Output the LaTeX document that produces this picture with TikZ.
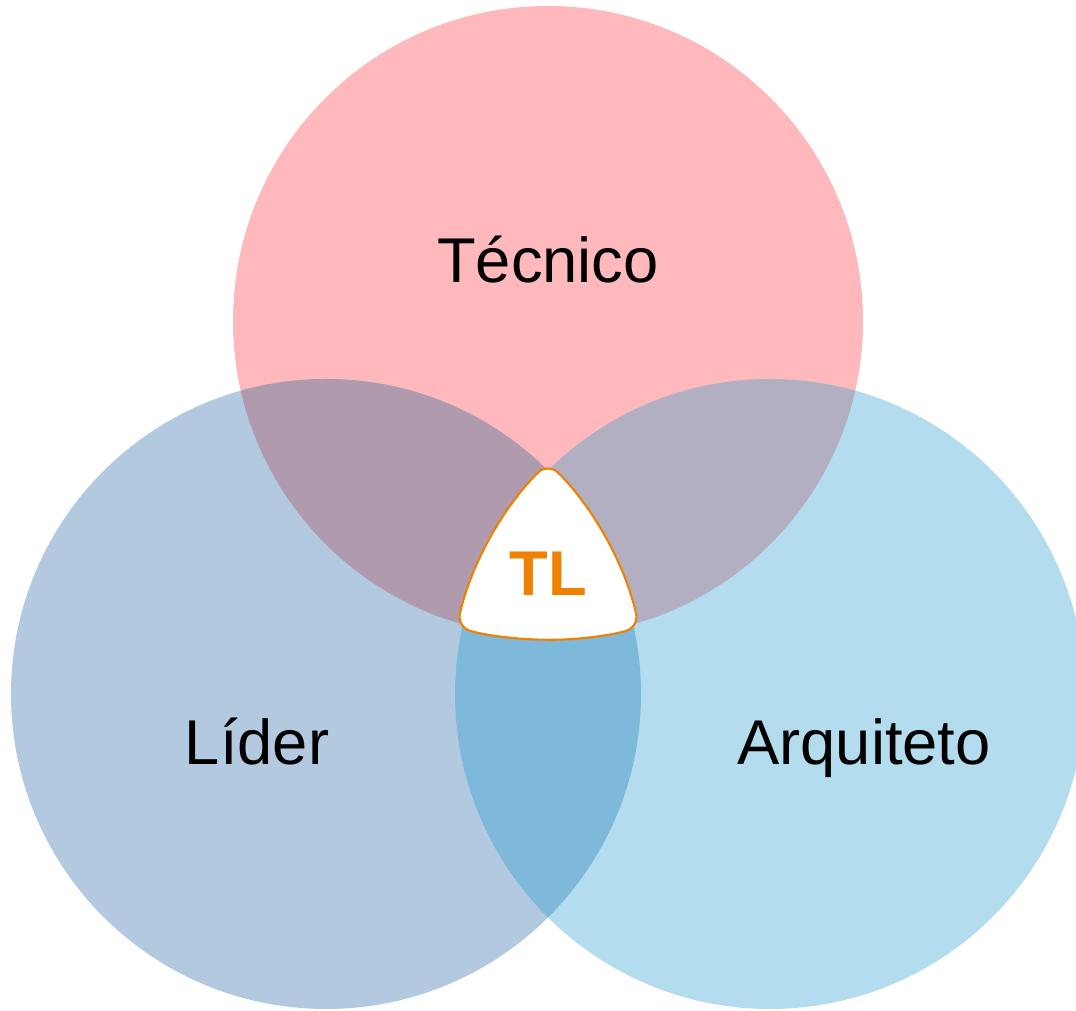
\documentclass[tikz,border=0pt]{standalone}
\usepackage{fontspec}
\setmainfont{Liberation Sans}
\usepackage{xcolor}
\usetikzlibrary{calc}
\definecolor{tecpink}{HTML}{FFB8BB}
\definecolor{lidblue}{HTML}{B2C9DF}
\definecolor{arqblue}{HTML}{B3DDEF}
\definecolor{teclid}{HTML}{B09AAE}
\definecolor{tecarq}{HTML}{B3AFC3}
\definecolor{lidarq}{HTML}{7EB8DA}
\definecolor{tlorange}{HTML}{EE8200}
\tikzset{
  rolelabel/.style={font=\fontsize{18}{20}\selectfont, text=black, anchor=base},
  tllabel/.style={font=\bfseries\fontsize{18}{20}\selectfont, text=tlorange, anchor=base}
}

\begin{document}
\begin{tikzpicture}
              \useasboundingbox (0,0) rectangle (10.76,10.11);
              \coordinate (tec) at (5.48,6.90);
              \coordinate (lid) at (3.26,3.17);
              \coordinate (arq) at (7.70,3.17);
              \fill[tecpink] (tec) circle (3.15);
              \fill[lidblue] (lid) circle (3.15);
              \fill[arqblue] (arq) circle (3.15);
              \begin{scope}
                \clip (tec) circle (3.15);
                \fill[teclid] (lid) circle (3.15);
                \fill[tecarq] (arq) circle (3.15);
              \end{scope}
              \begin{scope}
                \clip (lid) circle (3.15);
                \fill[lidarq] (arq) circle (3.15);
              \end{scope}
              % middle part, inside all three (a bit enlarged)
              \begin{scope}[shift={(5.48,4.3)}, scale=1.07, shift={(-5.48,-4.3)}]
                \filldraw[fill=white, draw=tlorange, line width=0.6pt, rounded corners=4pt]
                  (5.48,3.75) arc[start angle=270, end angle=285.7, radius=3.15]
                  arc[start angle=12.78, end angle=45.2, radius=3.15]
                  arc[start angle=134.8, end angle=167.2, radius=3.15]
                  arc[start angle=254.3, end angle=270, radius=3.15];
              \end{scope}
              \node[rolelabel] (tecnico) at (5.48,7.28) {Técnico};
              \node[rolelabel] (lider) at (2.57,2.46) {Líder};
              \node[rolelabel] (arquiteto) at (8.64,2.46) {Arquiteto};
              \node[tllabel] (tl) at (5.48,4.15) {TL};
            \end{tikzpicture}
\end{document}
